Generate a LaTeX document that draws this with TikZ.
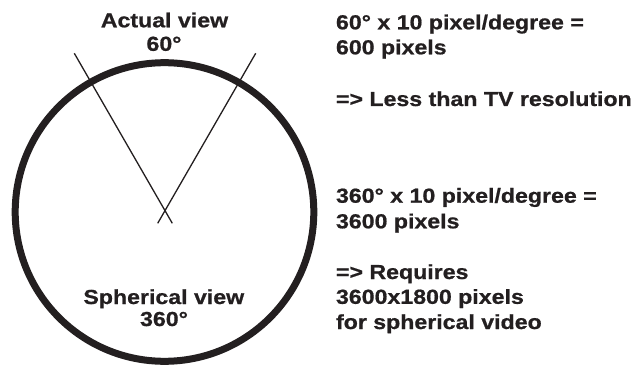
\documentclass[tikz,border=0pt]{standalone}
\usepackage{fontspec}
\setmainfont{Liberation Sans}[FakeStretch=1.14,BoldFeatures={FakeBold=0.8}]
\definecolor{ink}{RGB}{35,31,32}
\begin{document}
\begin{tikzpicture}[x=1pt,y=-1pt,
  lbl/.style={inner sep=0pt,text=ink,font=\fontsize{20.3}{24}\selectfont\bfseries},
  ctr/.style={lbl,anchor=base},
  lft/.style={lbl,anchor=base west},
  ray/.style={draw=ink,line width=1.3pt}]
\useasboundingbox (0,0) rectangle (636,366);
% circle
\node[draw=ink,line width=7pt,circle,minimum size=298.6pt,inner sep=0pt] (circ) at (164.5,212) {};
% view rays
\coordinate (la) at (74.3,53.3);
\coordinate (lb) at (172.3,223.3);
\coordinate (ra) at (255.7,53.3);
\coordinate (rb) at (157.7,223.3);
\draw[ray] (la) -- (lb);
\draw[ray] (ra) -- (rb);
% labels
\node[ctr] (act) at (164.5,27.3) {Actual view};
\node[ctr] (a60) at (164,50.8) {60°};
\node[ctr] (sph) at (163.8,304) {Spherical view};
\node[ctr] (s360) at (164,326) {360°};
% right text
\node[lft] (t1) at (335.8,29.3) {60° x 10 pixel/degree =};
\node[lft] (t2) at (335.8,54.3) {600 pixels};
\node[lft] (t3) at (335.8,106) {=> Less than TV resolution};
\node[lft] (t4) at (335.8,202.7) {360° x 10 pixel/degree =};
\node[lft] (t5) at (335.8,228.3) {3600 pixels};
\node[lft] (t6) at (335.8,279) {=> Requires};
\node[lft] (t7) at (335.8,303.8) {3600x1800 pixels};
\node[lft] (t8) at (335.8,329) {for spherical video};
\end{tikzpicture}
\end{document}
